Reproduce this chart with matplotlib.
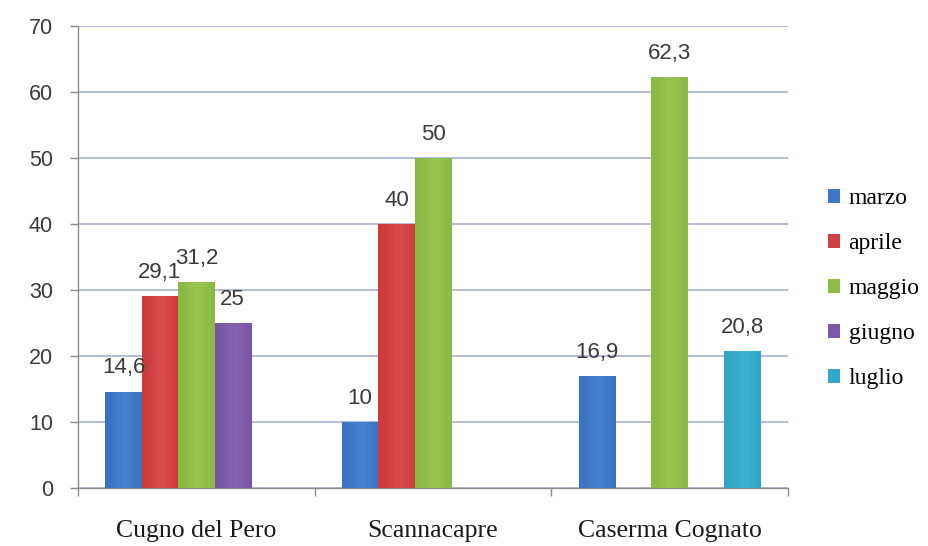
import matplotlib
matplotlib.use("Agg")
import matplotlib.pyplot as plt
from matplotlib.patches import Patch
from matplotlib.colors import to_rgb
import numpy as np

# Data
sites = ["Cugno del Pero", "Scannacapre", "Caserma Cognato"]
months = ["marzo", "aprile", "maggio", "giugno", "luglio"]
marzo = [14.6, 10, 16.9]
aprile = [29.1, 40, None]
maggio = [31.2, 50, 62.3]
giugno = [25, None, None]
luglio = [None, None, 20.8]
series = [marzo, aprile, maggio, giugno, luglio]
colors = ["#3d77c5", "#cf4141", "#8fbc46", "#7b58a8", "#35a8c8"]

yticks = [0, 10, 20, 30, 40, 50, 60, 70]

fig = plt.figure(figsize=(9.29, 5.46), dpi=100)
fig.patch.set_facecolor("white")
ax = fig.add_axes([78 / 929, 1 - 488 / 546, (788 - 78) / 929, (488 - 26) / 546])

n = len(months)
width = 1 / 6.5
x = np.arange(len(sites))


def shade(col):
    """Soft horizontal sheen across a bar, lighter slightly right of centre."""
    base = np.array(to_rgb(col))
    t = np.linspace(0, 1, 64)
    k = 0.06 * np.exp(-((t - 0.55) / 0.3) ** 2) - 0.02
    rgb = np.clip(base[None, :] + k[:, None] * (1 - base[None, :] * 0.3), 0, 1)
    return rgb[None, :, :]


for i, (vals, col) in enumerate(zip(series, colors)):
    for j, v in enumerate(vals):
        if v is None:
            continue
        xpos = x[j] + (i - (n - 1) / 2) * width
        bars = ax.bar(xpos, v, width=width, color=col, edgecolor="none", zorder=3)
        rect = bars[0]
        img = ax.imshow(shade(col), extent=(xpos - width / 2, xpos + width / 2, 0, v),
                        aspect="auto", interpolation="bilinear", zorder=3.5)
        img.set_clip_path(rect)
        label = f"{v:g}".replace(".", ",")
        ax.annotate(label, (xpos, v), xytext=(0, 9.5), textcoords="offset points",
                    ha="center", va="bottom", fontsize=16,
                    family="Liberation Sans", color="#3a3a3a", zorder=4)

ax.set_ylim(0, 70)
ax.set_xlim(-0.5, len(sites) - 0.5)

ax.set_yticks(yticks)
ax.set_yticklabels([str(t) for t in yticks], family="Liberation Sans",
                   fontsize=15.5, color="#3a3a3a")
ax.tick_params(axis="y", direction="out", length=6, width=1, color="#8c8c8c", pad=12)

# Category boundary ticks and centered labels
ax.set_xticks(np.arange(len(sites) + 1) - 0.5)
ax.set_xticklabels([])
ax.tick_params(axis="x", which="major", direction="out", length=6, width=1, color="#8c8c8c")
ax.set_xticks(x, minor=True)
ax.set_xticklabels(sites, minor=True, family="Liberation Serif", fontsize=18.5, color="#1a1a1a")
ax.tick_params(axis="x", which="minor", length=0, pad=23)

ax.yaxis.grid(True, color="#a5b1d2", linewidth=1.2, zorder=0)
ax.set_axisbelow(True)

for s in ["top", "right"]:
    ax.spines[s].set_visible(False)
for s in ["left", "bottom"]:
    ax.spines[s].set_color("#8c8c8c")
    ax.spines[s].set_linewidth(1)

handles = [Patch(facecolor=c, edgecolor="none", label=m) for c, m in zip(colors, months)]
fig.legend(handles=handles, loc="upper left", bbox_to_anchor=(828 / 929, 1 - 188 / 546),
           frameon=False, prop={"family": "Liberation Serif", "size": 17},
           handlelength=0.52, handleheight=0.52, handletextpad=0.35,
           labelspacing=1.02, borderaxespad=0, borderpad=0)

fig.savefig("out.png", dpi=100, facecolor="white")
